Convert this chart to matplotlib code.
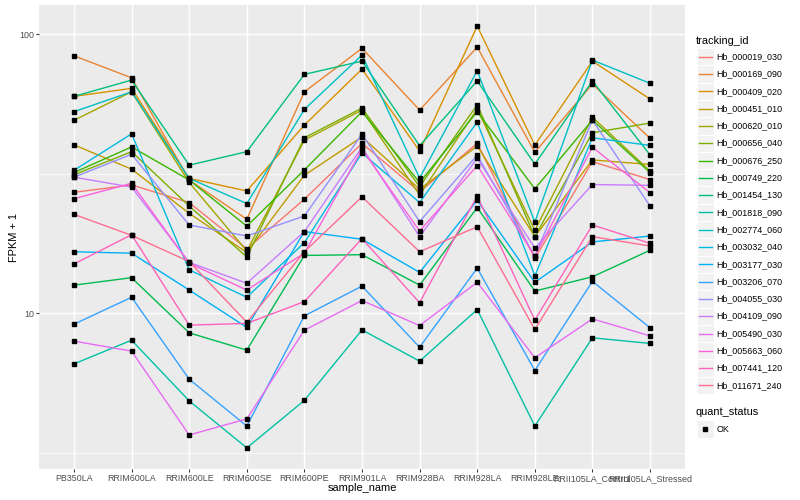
import numpy as np
import matplotlib
matplotlib.use('Agg')
import matplotlib.pyplot as plt
from matplotlib.lines import Line2D
from matplotlib.patches import Rectangle

plt.rcParams['font.family'] = ['Liberation Sans', 'DejaVu Sans']

# samples on the x axis
samples = ['PB350LA', 'RRIM600LA', 'RRIM600LE', 'RRIM600SE', 'RRIM600PE',
           'RRIM901LA', 'RRIM928BA', 'RRIM928LA', 'RRIM928LE',
           'RRII105LA_Control', 'RRII105LA_Stressed']

# FPKM + 1 per gene
hb_000019_030 = [27.1, 28.8, 24.9, 17.0, 25.6, 40.6, 27.2, 40.6, 15.7, 34.9, 30.1]
hb_000169_090 = [83.6, 69.7, 30.0, 21.7, 62.1, 88.9, 53.4, 89.8, 37.7, 66.2, 42.3]
hb_000409_020 = [59.8, 63.9, 30.4, 27.4, 47.2, 74.9, 38.1, 106.8, 40.0, 80.0, 58.5]
hb_000451_010 = [40.1, 32.8, 22.8, 16.5, 31.2, 42.8, 27.8, 39.7, 18.8, 35.4, 34.1]
hb_000620_010 = [49.1, 62.1, 29.4, 16.7, 41.7, 53.4, 26.5, 53.9, 19.8, 50.4, 32.3]
hb_000656_040 = [31.3, 37.9, 24.2, 15.9, 42.5, 54.3, 28.4, 55.8, 18.8, 44.3, 48.0]
hb_000676_250 = [31.9, 39.4, 30.0, 20.5, 32.6, 52.7, 29.4, 52.7, 27.9, 49.2, 31.9]
hb_000749_220 = [12.6, 13.4, 8.5, 7.37, 16.1, 16.2, 12.6, 23.9, 12.0, 13.5, 16.8]
hb_001454_130 = [59.8, 68.4, 33.9, 37.9, 71.7, 80.0, 39.8, 67.9, 34.2, 67.9, 36.9]
hb_001818_090 = [6.58, 8.0, 4.85, 3.29, 4.87, 8.71, 6.73, 10.3, 3.94, 8.16, 7.79]
hb_002774_060 = [52.7, 62.1, 30.4, 24.7, 53.7, 84.1, 30.5, 73.9, 21.2, 80.7, 66.6]
hb_003032_040 = [32.5, 43.9, 14.3, 11.4, 17.9, 37.5, 24.9, 48.4, 13.6, 42.5, 39.9]
hb_003177_030 = [16.6, 16.4, 12.1, 8.89, 19.6, 18.4, 14.0, 25.4, 12.9, 18.0, 18.9]
hb_003206_070 = [9.13, 11.4, 5.80, 3.94, 9.78, 12.5, 7.55, 14.5, 6.23, 13.0, 8.86]
hb_004055_030 = [30.7, 37.1, 20.7, 18.9, 22.3, 43.8, 21.3, 36.8, 16.0, 49.2, 24.2]
hb_004109_090 = [30.7, 28.3, 15.2, 12.8, 19.6, 39.3, 18.8, 35.9, 17.1, 28.9, 28.7]
hb_005490_030 = [7.94, 7.31, 3.66, 4.18, 8.69, 11.1, 9.03, 12.9, 6.92, 9.54, 8.29]
hb_005663_060 = [25.7, 29.2, 15.1, 12.1, 16.4, 38.6, 19.7, 33.8, 16.0, 39.3, 27.0]
hb_007441_120 = [15.0, 19.1, 9.06, 9.19, 11.0, 18.5, 10.9, 26.3, 9.44, 20.7, 17.8]
hb_011671_240 = [22.6, 19.0, 15.3, 9.28, 16.6, 26.1, 16.6, 20.4, 8.74, 18.8, 17.4]

tracking_ids = ['Hb_000019_030', 'Hb_000169_090', 'Hb_000409_020', 'Hb_000451_010',
                'Hb_000620_010', 'Hb_000656_040', 'Hb_000676_250', 'Hb_000749_220',
                'Hb_001454_130', 'Hb_001818_090', 'Hb_002774_060', 'Hb_003032_040',
                'Hb_003177_030', 'Hb_003206_070', 'Hb_004055_030', 'Hb_004109_090',
                'Hb_005490_030', 'Hb_005663_060', 'Hb_007441_120', 'Hb_011671_240']
series = [hb_000019_030, hb_000169_090, hb_000409_020, hb_000451_010, hb_000620_010,
          hb_000656_040, hb_000676_250, hb_000749_220, hb_001454_130, hb_001818_090,
          hb_002774_060, hb_003032_040, hb_003177_030, hb_003206_070, hb_004055_030,
          hb_004109_090, hb_005490_030, hb_005663_060, hb_007441_120, hb_011671_240]

# ggplot default hue palette, 20 levels
colors = ['#F8766D', '#EA8331', '#D89000', '#C09B00', '#A3A500', '#7CAE00',
          '#39B600', '#00BB4E', '#00BF7D', '#00C1A3', '#00BFC4', '#00BAE0',
          '#00B0F6', '#35A2FF', '#9590FF', '#C77CFF', '#E76BF3', '#FA62DB',
          '#FF62BC', '#FF6C91']

W, H = 800, 500
fig = plt.figure(figsize=(W / 100, H / 100), dpi=100)
ax = fig.add_axes([39.4 / W, 1 - 469 / H, (684.6 - 39.4) / W, (469 - 5) / H])
ax.set_facecolor('#EBEBEB')

x = np.arange(len(samples))
for vals, c in zip(series, colors):
    ax.plot(x, vals, color=c, lw=1.0, zorder=3)
for vals in series:
    ax.plot(x, vals, 's', color='black', ms=2.6, zorder=4, ls='none')

# log scale with ggplot style 5% expansion
ax.set_yscale('log')
allv = np.log10(np.concatenate([np.array(s) for s in series]))
lo, hi = allv.min(), allv.max()
pad = 0.05 * (hi - lo)
ax.set_ylim(10 ** (lo - pad), 10 ** (hi + pad))
ax.set_xlim(-0.6, len(samples) - 0.4)

ax.set_yticks([10, 100])
ax.set_yticklabels(['10', '100'])
ax.set_yticks([10 ** 0.5, 10 ** 1.5], minor=True)
ax.yaxis.set_minor_formatter(matplotlib.ticker.NullFormatter())
ax.set_xticks(x)
ax.set_xticklabels(samples)

for s in ax.spines.values():
    s.set_visible(False)
ax.grid(True, which='major', color='white', lw=1.05, zorder=0)
ax.grid(True, which='minor', axis='y', color='white', lw=0.5, zorder=0)
ax.set_axisbelow(True)
ax.tick_params(which='major', length=2.0, width=0.75, color='#333333',
               labelsize=6.4, labelcolor='#4D4D4D', pad=1.6)
ax.tick_params(which='minor', length=0)

fig.text(362 / W, 1 - 488 / H, 'sample_name', ha='center', va='center', fontsize=7.9)
fig.text(14 / W, 1 - 237 / H, 'FPKM + 1', ha='center', va='center', rotation=90,
         fontsize=7.9)

# legend drawn by hand in pixel positions
def fx(px):
    return px / W

def fy(py):
    return 1 - py / H

fig.text(fx(696), fy(40.7), 'tracking_id', ha='left', va='center', fontsize=7.9)
step = 17.3
for i, (name, c) in enumerate(zip(tracking_ids, colors)):
    yc = 56.7 + i * step
    fig.patches.append(Rectangle((fx(696.5), fy(yc + step / 2)), 17.3 / W, step / H,
                                 transform=fig.transFigure, facecolor='#F2F2F2',
                                 edgecolor='white', lw=0.8))
    fig.lines.append(Line2D([fx(698.5), fx(712)], [fy(yc), fy(yc)],
                            transform=fig.transFigure, color=c, lw=1.0))
    fig.text(fx(716.7), fy(yc), name, ha='left', va='center', fontsize=6.4)

fig.text(fx(696), fy(412.3), 'quant_status', ha='left', va='center', fontsize=7.9)
fig.patches.append(Rectangle((fx(696.5), fy(429 + step / 2)), 17.3 / W, step / H,
                             transform=fig.transFigure, facecolor='#F2F2F2',
                             edgecolor='white', lw=0.8))
fig.lines.append(Line2D([fx(705)], [fy(429)], transform=fig.transFigure,
                        marker='s', ms=2.6, color='black', ls='none'))
fig.text(fx(716.7), fy(429), 'OK', ha='left', va='center', fontsize=6.4)

fig.savefig('out.png', dpi=100)
